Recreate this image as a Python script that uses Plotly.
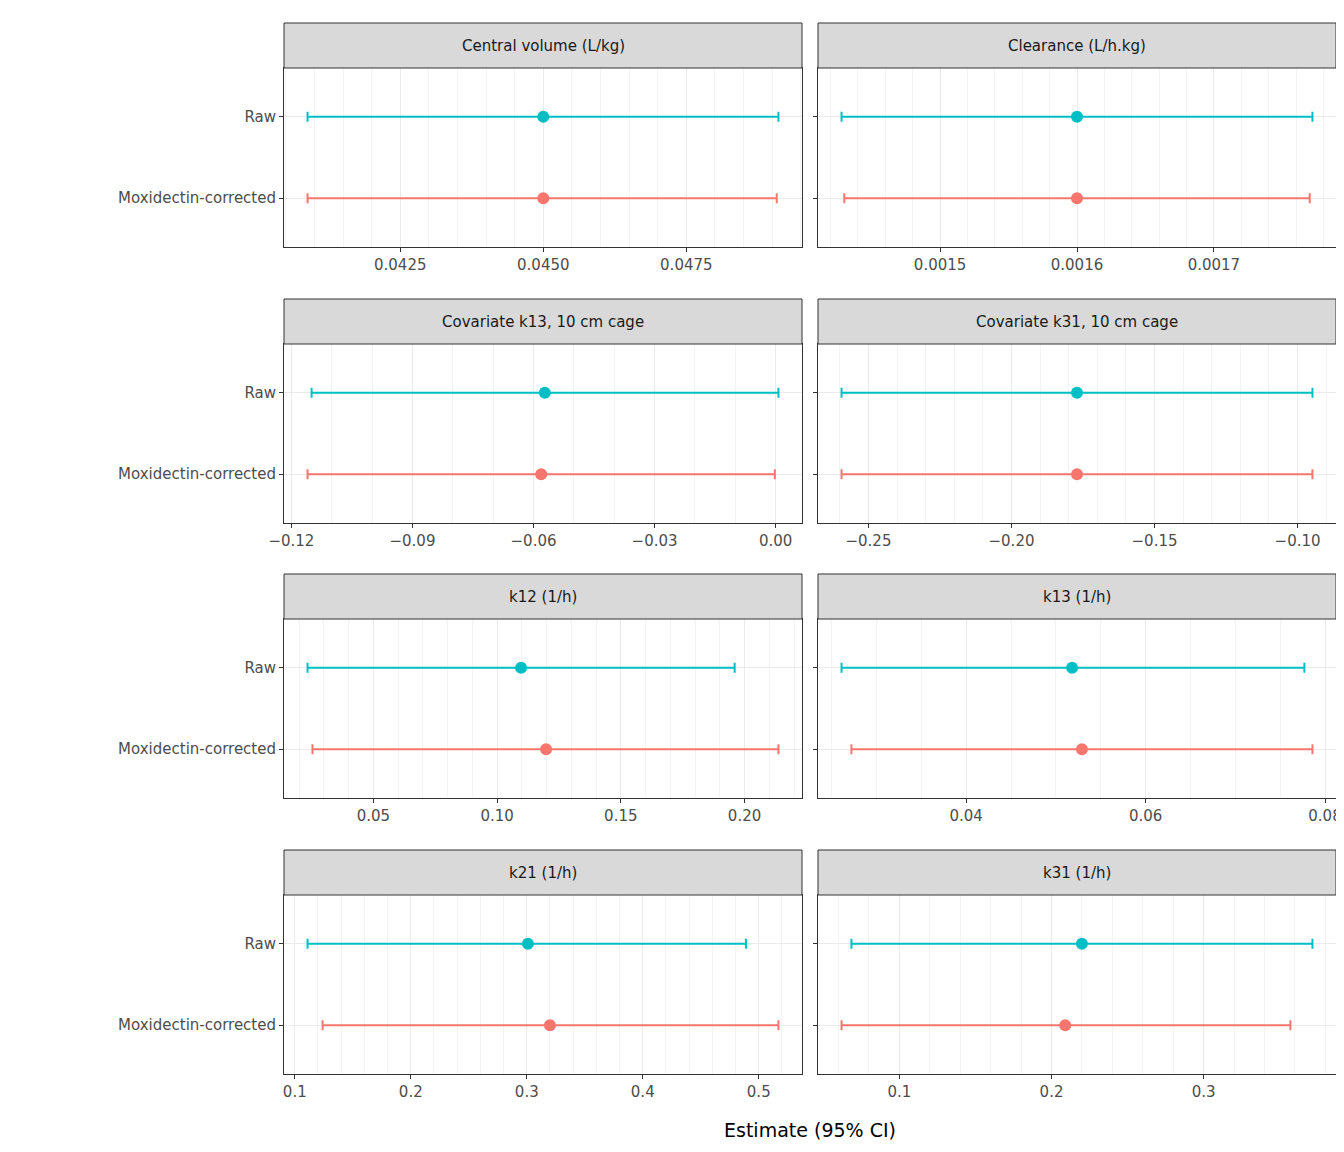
import plotly.graph_objects as go

W, H = 1344, 1152

panels = ['Central volume (L/kg)', 'Clearance (L/h.kg)',
          'Covariate k13, 10 cm cage', 'Covariate k31, 10 cm cage',
          'k12 (1/h)', 'k13 (1/h)', 'k21 (1/h)', 'k31 (1/h)']
groups = ['Moxidectin-corrected', 'Raw']

# estimates and 95% CI per panel, [moxidectin-corrected, raw]
est = [[0.0450, 0.0450], [0.0016, 0.0016], [-0.0581, -0.0572], [-0.1771, -0.1771],
       [0.1198, 0.1097], [0.0529, 0.0518], [0.320, 0.301], [0.209, 0.220]]
lower = [[0.04088, 0.04088], [0.00143, 0.001428], [-0.116, -0.115], [-0.2594, -0.2594],
         [0.0254, 0.0234], [0.0272, 0.0261], [0.124, 0.111], [0.062, 0.0685]]
upper = [[0.04908, 0.04911], [0.00177, 0.001772], [-0.0002, 0.0007], [-0.0948, -0.0948],
         [0.2137, 0.196], [0.0786, 0.0777], [0.517, 0.489], [0.357, 0.3715]]

dticks = [0.0025, 0.0001, 0.03, 0.05, 0.05, 0.02, 0.1, 0.1]
formats = ['.4f', '.4f', '.2f', '.2f', '.2f', '.2f', '.1f', '.1f']
colors = {'Moxidectin-corrected': '#F8766D', 'Raw': '#00BFC4'}

col_px = [(276, 794), (810, 1328)]
row_px = [(15, 60, 239), (291, 336, 515), (566, 611, 790), (842, 887, 1066)]

fig = go.Figure()
layout = {}
for i, name in enumerate(panels):
    r, c = divmod(i, 2)
    x0, x1 = col_px[c]
    s0, p0, p1 = row_px[r]
    xa, ya = f'xaxis{i+1}', f'yaxis{i+1}'
    xr, yr = f'x{i+1}', f'y{i+1}'
    lo = min(lower[i]); hi = max(upper[i]); span = hi - lo
    for g, grp in enumerate(groups):
        fig.add_trace(go.Scatter(
            x=[est[i][g]], y=[grp], mode='markers', xaxis=xr, yaxis=yr,
            marker=dict(color=colors[grp], size=12),
            error_x=dict(type='data', symmetric=False,
                         array=[upper[i][g] - est[i][g]],
                         arrayminus=[est[i][g] - lower[i][g]],
                         color=colors[grp], thickness=2, width=5),
            showlegend=False))
    layout[xa] = dict(domain=[x0 / W, x1 / W], anchor=yr, automargin=False,
                      range=[lo - 0.05 * span, hi + 0.05 * span],
                      dtick=dticks[i], tick0=0, tickformat=formats[i],
                      showgrid=True, gridcolor='#EBEBEB', gridwidth=1.2,
                      minor=dict(showgrid=True, gridcolor='#F4F4F4', gridwidth=0.8),
                      showline=True, mirror=True, linecolor='#333333', linewidth=1,
                      ticks='outside', ticklen=4, tickcolor='#333333',
                      zeroline=False, tickfont=dict(size=15, color='#4D4D4D'))
    layout[ya] = dict(domain=[1 - p1 / H, 1 - p0 / H], anchor=xr, automargin=False,
                      type='category', categoryarray=groups, range=[-0.6, 1.6],
                      showgrid=True, gridcolor='#EBEBEB', gridwidth=1.2,
                      showline=True, mirror=True, linecolor='#333333', linewidth=1,
                      ticks='outside', ticklen=4, tickcolor='#333333',
                      zeroline=False, showticklabels=(c == 0),
                      tickfont=dict(size=15, color='#4D4D4D'))
    fig.add_shape(type='rect', xref='paper', yref='paper',
                  x0=x0 / W, x1=x1 / W, y0=1 - p0 / H, y1=1 - s0 / H,
                  fillcolor='#D9D9D9', line=dict(color='#333333', width=1))
    fig.add_annotation(text=name, xref='paper', yref='paper',
                       x=(x0 + x1) / 2 / W, y=1 - (s0 + p0) / 2 / H,
                       xanchor='center', yanchor='middle',
                       showarrow=False, font=dict(size=15, color='#1A1A1A'))

fig.add_annotation(text='Estimate (95% CI)', xref='paper', yref='paper',
                   x=(276 + 1328) / 2 / W, y=1 - 1122 / H, showarrow=False,
                   xanchor='center', yanchor='middle',
                   font=dict(size=19, color='black'))

fig.update_layout(width=W, height=H, margin=dict(l=0, r=0, t=0, b=0, autoexpand=False),
                  plot_bgcolor='white', paper_bgcolor='white',
                  font=dict(family='DejaVu Sans'), **layout)
fig.write_html('out.html')
